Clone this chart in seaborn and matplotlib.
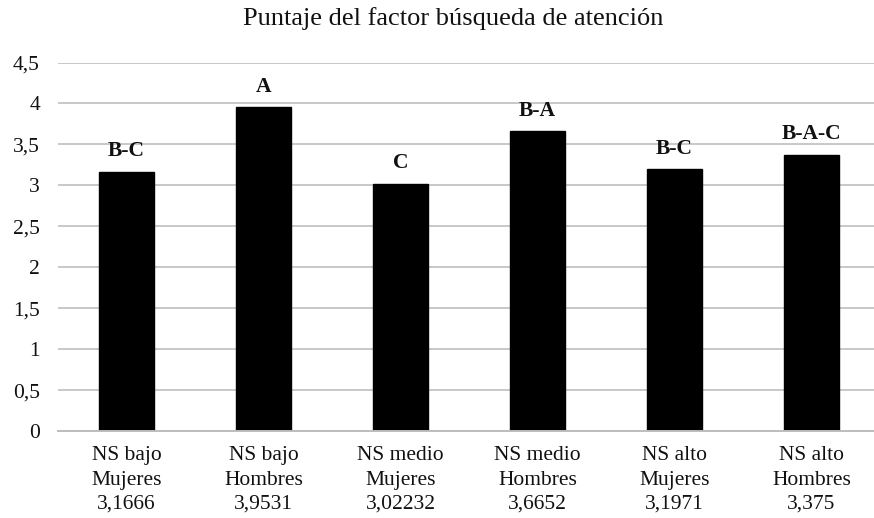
import matplotlib
matplotlib.use("Agg")
import matplotlib.pyplot as plt
import seaborn as sns
import pandas as pd
from matplotlib.ticker import FuncFormatter, MultipleLocator

categories = ["NS bajo\nMujeres\n3,1666", "NS bajo\nHombres\n3,9531", "NS medio\nMujeres\n3,02232",
              "NS medio\nHombres\n3,6652", "NS alto\nMujeres\n3,1971", "NS alto\nHombres\n3,375"]
values = [3.1666, 3.9531, 3.02232, 3.6652, 3.1971, 3.375]
letters = ["B-C", "A", "C", "B-A", "B-C", "B-A-C"]
title = "Puntaje del factor búsqueda de atención"

sns.set_style("white")
plt.rcParams['font.family'] = ['Liberation Serif', 'DejaVu Serif']

df = pd.DataFrame({"cat": categories, "val": values})

fig = plt.figure(figsize=(8.74, 5.18), dpi=100)
ax = fig.add_axes([58 / 874, 1 - 431 / 518, 822 / 874, (431 - 62.5) / 518])
sns.barplot(data=df, x="cat", y="val", color="black", width=0.4, ax=ax, zorder=3,
            saturation=1)
for p in ax.patches:
    p.set_edgecolor("black")

ax.set_ylim(0, 4.5)
ax.set_xlim(-0.5, 5.5)
ax.yaxis.set_major_locator(MultipleLocator(0.5))
ax.yaxis.set_major_formatter(FuncFormatter(lambda v, pos: ("%g" % v).replace(".", ",")))
ax.grid(axis="y", color="#c8c8c8", linewidth=1.4, zorder=0)
ax.set_axisbelow(True)
for s in ["top", "right", "left"]:
    ax.spines[s].set_visible(False)
ax.spines["bottom"].set_color("#bdbdbd")
ax.spines["bottom"].set_linewidth(1.4)
ax.spines["bottom"].set_zorder(4)
ax.tick_params(axis="both", length=0, colors="#111111")
ax.tick_params(axis="y", pad=13, labelsize=15.5)
ax.tick_params(axis="x", pad=11, labelsize=15.5)
for t in ax.get_xticklabels():
    t.set_linespacing(1.38)
ax.set_xlabel("")
ax.set_ylabel("")

for i, (v, l) in enumerate(zip(values, letters)):
    ax.annotate(l, (i, v), xytext=(0, 11), textcoords="offset points", ha="center",
                va="baseline", fontsize=15.5, fontweight="bold", color="#111111")

fig.text(453 / 874, 1 - 19 / 518, title, ha="center", va="center", fontsize=19, color="#111111")

fig.savefig("out.png", dpi=100)
